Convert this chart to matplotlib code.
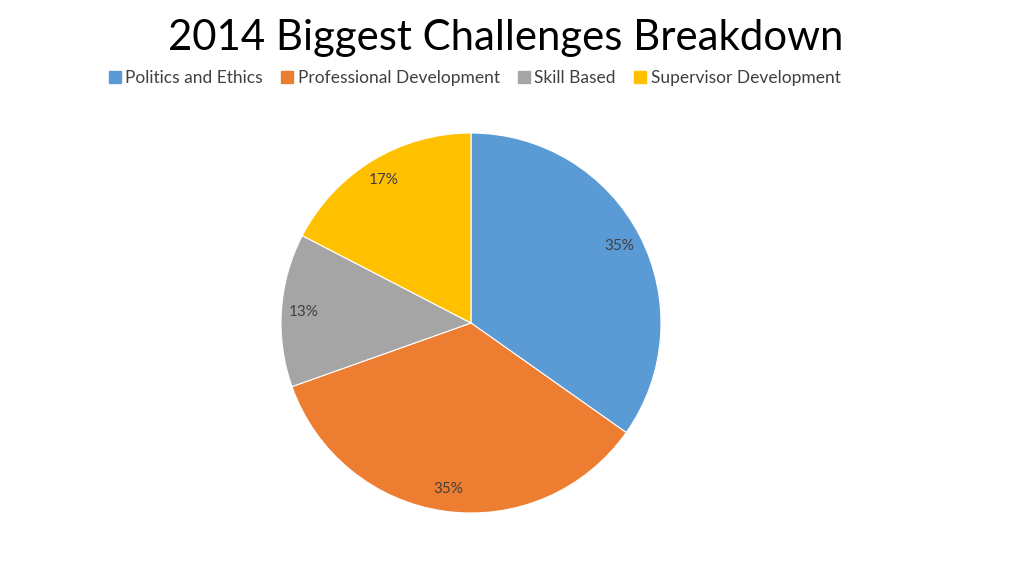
import matplotlib
matplotlib.use("Agg")
import matplotlib.pyplot as plt
from matplotlib.lines import Line2D

categories = ["Politics and Ethics", "Professional Development", "Skill Based", "Supervisor Development"]
values = [8, 8, 3, 4]
colors = ["#5B9BD5", "#ED7D31", "#A5A5A5", "#FFC000"]
title = "2014 Biggest Challenges Breakdown"

plt.rcParams['font.family'] = ['Lato', 'DejaVu Sans']

fig = plt.figure(figsize=(10.24, 5.76), dpi=100)
r_px = 190
cx, cy = 471, 323
ax = fig.add_axes([(cx - r_px) / 1024, (576 - cy - r_px) / 576, 2 * r_px / 1024, 2 * r_px / 576])
wedges, texts, autotexts = ax.pie(values, colors=colors, startangle=90, counterclock=False,
                                  autopct='%1.0f%%', pctdistance=0.88,
                                  wedgeprops=dict(edgecolor='white', linewidth=0.8),
                                  textprops=dict(fontsize=11, color='#404040'))
ax.set_xlim(-1, 1)
ax.set_ylim(-1, 1)
ax.set_aspect('equal')

fig.text(506 / 1024, 1 - 38 / 576, title, ha='center', va='center', fontsize=30.2,
         fontweight='normal', color='#000000')

handles = [Line2D([0], [0], marker='s', linestyle='none', markersize=8,
                  markerfacecolor=c, markeredgecolor=c) for c in colors]
fig.legend(handles, categories, loc='center', bbox_to_anchor=(475 / 1024, 1 - 78 / 576),
           ncol=4, frameon=False, fontsize=12.5, handlelength=0.6, handletextpad=0.3,
           columnspacing=1.1, labelcolor='#404040')

fig.savefig("out.png", dpi=100, facecolor='white')
